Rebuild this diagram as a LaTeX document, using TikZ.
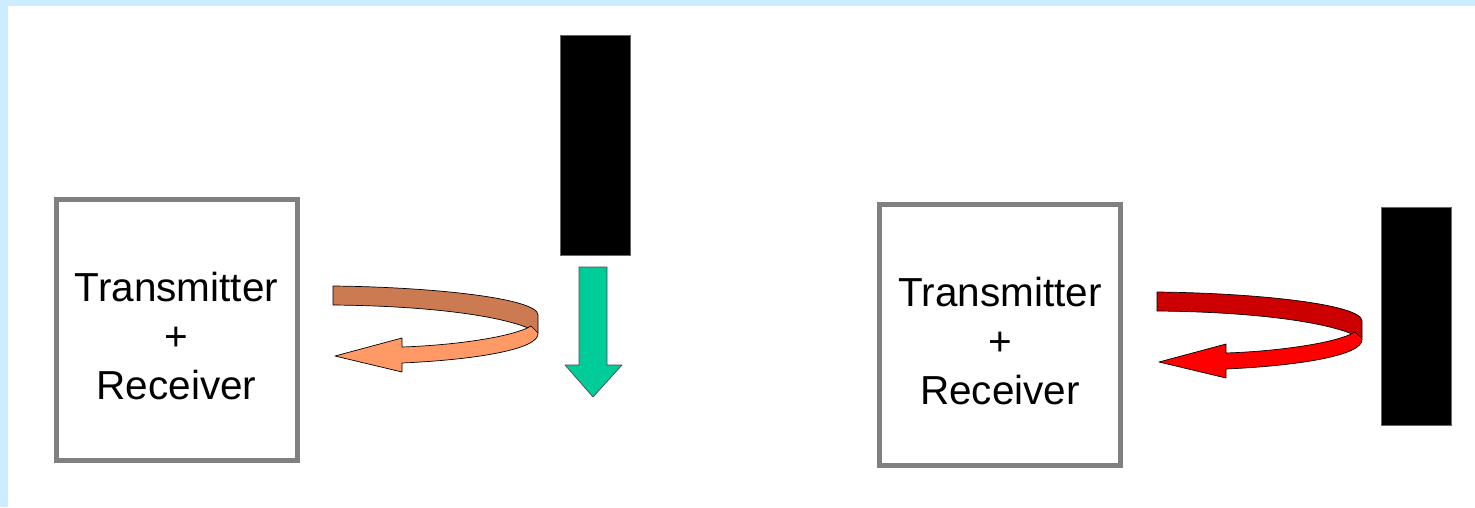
\documentclass[tikz,border=0pt]{standalone}
\usepackage{fontspec}
\setmainfont{Liberation Sans}
\begin{document}
\definecolor{frame}{RGB}{204,236,255}
\definecolor{boxgray}{RGB}{128,128,128}
\definecolor{oranged}{RGB}{204,122,82}
\definecolor{orangel}{RGB}{255,153,102}
\definecolor{redd}{RGB}{204,0,0}
\definecolor{redl}{RGB}{255,0,0}
\definecolor{teal}{RGB}{0,204,153}
\begin{tikzpicture}[x=1pt,y=-1pt,
  trbox/.style={draw=boxgray,line width=5pt,fill=white,minimum width=241pt,minimum height=261pt,inner sep=0pt},
  trtext/.style={align=center,font=\fontsize{40.5}{49}\selectfont,inner sep=0pt},
  wall/.style={fill=black,draw=black!60,line width=0.6pt},
  outl/.style={draw=black,line width=0.7pt,line join=round},
  pics/turnarrow/.style args={#1/#2}{code={
    % back side of the band
    \filldraw[outl,fill=#1] (0,0) .. controls (97,1) and (205,12) .. (205,29)
      -- (205,47) .. controls (182,32) and (107,20) .. (0,19) -- cycle;
    % front side of the band with the head
    \filldraw[outl,fill=#2] (205,47) .. controls (207,64) and (137,74) .. (69,77)
      -- (69,86) -- (2,70) -- (69,52) -- (69,61)
      .. controls (127,59) and (182,50) .. (198,40) -- cycle;
  }}]
\useasboundingbox (0,0) rectangle (1475,507);
\fill[frame] (0,0) rectangle (1475,507);
\fill[white] (8,6) rectangle (1475,507);

% left unit: transceiver, rising wall, turning echo
\node[trbox] (txA) at (176.5,329.5) {};
\node[trtext] (labA) at (176.5,336) {Transmitter\\+\\Receiver};
\node[wall,minimum width=70pt,minimum height=220pt,inner sep=0pt] (wallA) at (595,145) {};
\pic at (333,286) {turnarrow={oranged/orangel}};
\filldraw[fill=teal,draw=black!70,line width=0.7pt,line join=round]
  (579,267) -- (607,267) -- (607,365) -- (622,365) -- (593,397) -- (565,365) -- (579,365) -- cycle;

% right unit: transceiver facing a wall
\node[trbox] (txB) at (1000,335) {};
\node[trtext] (labB) at (1000,341.5) {Transmitter\\+\\Receiver};
\node[wall,minimum width=70pt,minimum height=218pt,inner sep=0pt] (wallB) at (1416.5,316) {};
\pic at (1157,292) {turnarrow={redd/redl}};
\end{tikzpicture}
\end{document}
